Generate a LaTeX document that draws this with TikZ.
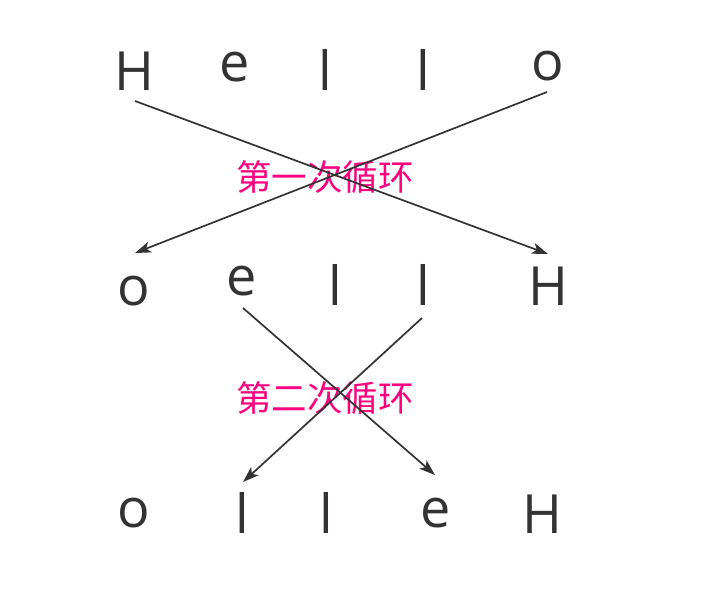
\documentclass[tikz,border=0pt]{standalone}
\usepackage{fontspec}
\setmainfont{Open Sans}
\newfontfamily\cjk{Noto Sans CJK SC}
\usetikzlibrary{arrows.meta}
\definecolor{ink}{HTML}{333333}
\definecolor{loopred}{HTML}{FF0080}
\begin{document}
\begin{tikzpicture}[x=1pt,y=-1pt,
  ch/.style={anchor=base,inner sep=0pt,text=ink,font=\fontsize{54}{60}\selectfont},
  lbl/.style={inner sep=0pt,text=loopred,font=\cjk\fontsize{35.5}{40}\selectfont},
  arr/.style={draw=ink,line width=1.7pt,-{Stealth[length=16pt,width=11pt,inset=4pt]}}]
\useasboundingbox (0,0) rectangle (712,595);
\node (p1) at (134,90) [ch] {H};
\node (p2) at (235,81) [ch] {e};
\node (p3) at (325,90) [ch] {l};
\node (p4) at (423,90) [ch] {l};
\node (p5) at (548,80) [ch] {o};
\node (p6) at (134,305) [ch] {o};
\node (p7) at (242,295) [ch] {e};
\node (p8) at (335,305) [ch] {l};
\node (p9) at (423,305) [ch] {l};
\node (p10) at (548,305) [ch] {H};
\node (p11) at (134,527) [ch] {o};
\node (p12) at (242,533) [ch] {l};
\node (p13) at (326,533) [ch] {l};
\node (p14) at (436,527) [ch] {e};
\node (p15) at (542,533) [ch] {H};
\node (l1) at (325,177) [lbl] {第一次循环};
\node (l2) at (325,398) [lbl] {第二次循环};
\draw[arr] ([shift={(1,11)}]p1.base) -- ([shift={(0,-51)}]p10.base);
\draw[arr] ([shift={(-1,12)}]p5.base) -- ([shift={(1,-52)}]p6.base);
\draw[arr] ([shift={(1,13)}]p7.base) -- ([shift={(-1,-52)}]p14.base);
\draw[arr] ([shift={(-1,13)}]p9.base) -- ([shift={(1,-51)}]p12.base);
\end{tikzpicture}
\end{document}
